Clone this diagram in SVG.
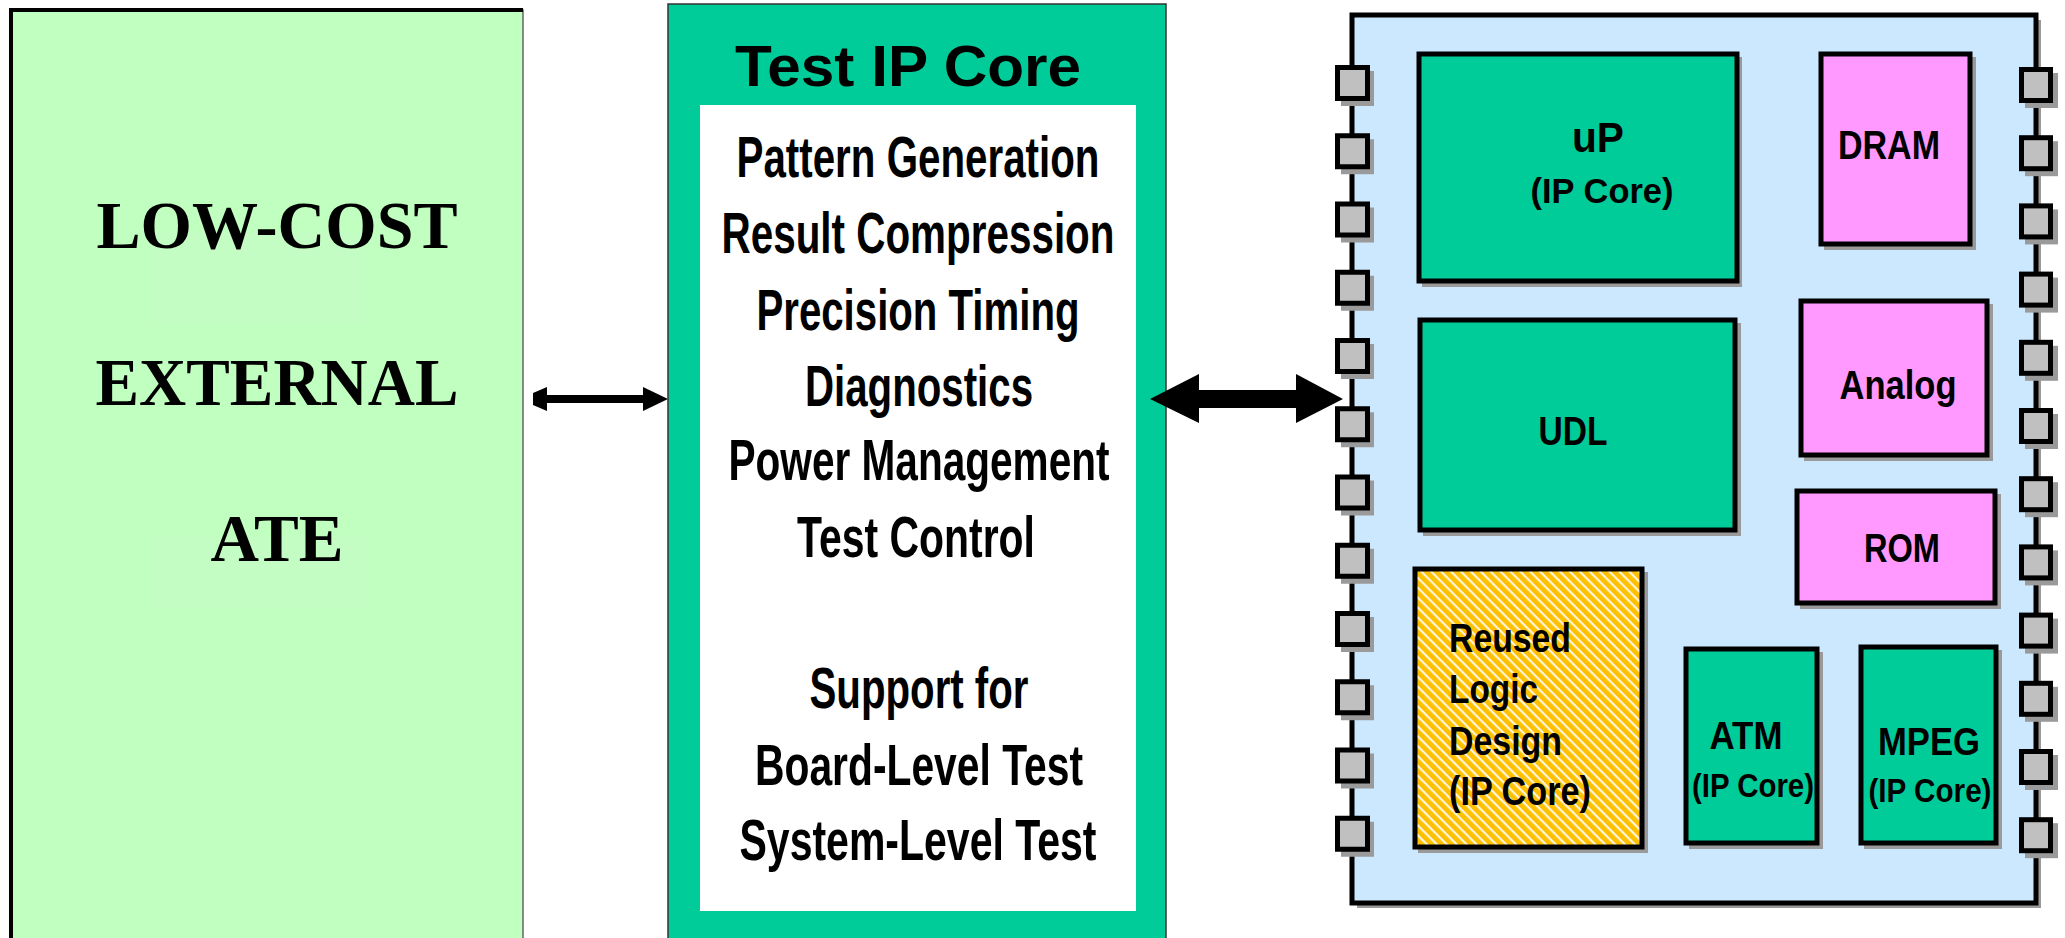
<svg xmlns="http://www.w3.org/2000/svg" width="2065" height="938" viewBox="0 0 2065 938">
  <style>
    .serif { font-family: "Liberation Serif", "Times New Roman", serif; font-weight: bold; fill: #000; }
    .sans { font-family: "Liberation Sans", Arial, sans-serif; font-weight: bold; fill: #000; }
    .mid { font-size: 57px; text-anchor: middle; }
    .chipTxt { font-size: 40px; text-anchor: middle; }
    .sub { font-size: 35px; text-anchor: middle; }
    .lft { font-size: 40px; }
    .shadow { fill: #9a9a9a; }
    .blk { stroke: #000; stroke-width: 5; }
    .green { fill: #00cc99; }
    .pink { fill: #ff99ff; }
    .pin { fill: #c0c0c0; stroke: #000; stroke-width: 5; }
    .pinShadow { fill: #9a9a9a; }
  </style>
  <defs>
    <pattern id="hatch" width="7" height="7" patternUnits="userSpaceOnUse" patternTransform="rotate(-45)">
      <rect width="7" height="7" fill="#fff4dc"/>
      <rect width="4.8" height="7" fill="#ffc000"/>
    </pattern>
    <g id="pinL">
      <rect class="pinShadow" x="1341" y="6" width="33" height="35"/>
      <rect class="pin" x="1337.5" y="2.5" width="30" height="31"/>
    </g>
    <g id="pinR">
      <rect class="pinShadow" x="2025" y="6" width="33" height="35"/>
      <rect class="pin" x="2021.5" y="2.5" width="29" height="31"/>
    </g>
  </defs>

  <rect width="2065" height="938" fill="#fff"/>

  <!-- external tester -->
  <g id="ate">
    <rect x="11" y="10" width="512" height="940" fill="#c0ffc0" stroke="#666" stroke-width="1.5"/>
    <path d="M11,950 V10 H523" fill="none" stroke="#000" stroke-width="4"/>
    <rect x="152" y="233" width="212" height="90" fill="#c4fdc4"/>
    <rect x="152" y="537" width="214" height="70" fill="#c4fdc4"/>
    <text class="serif" x="277" y="248" font-size="67" text-anchor="middle" textLength="361" lengthAdjust="spacingAndGlyphs">LOW-COST</text>
    <text class="serif" x="277" y="405" font-size="67" text-anchor="middle" textLength="363" lengthAdjust="spacingAndGlyphs">EXTERNAL</text>
    <text class="serif" x="277" y="561" font-size="67" text-anchor="middle" textLength="133" lengthAdjust="spacingAndGlyphs">ATE</text>
  </g>

  <!-- test core -->
  <g id="test-ip-core">
    <rect x="668" y="4" width="498" height="945" fill="#00cc99" stroke="#333" stroke-width="1.5"/>
    <text class="sans" x="908" y="86" font-size="58" text-anchor="middle" textLength="346" lengthAdjust="spacingAndGlyphs">Test IP Core</text>
    <rect x="700" y="105" width="436" height="806" fill="#fff"/>
    <text class="sans mid" x="918" y="177" textLength="363" lengthAdjust="spacingAndGlyphs">Pattern Generation</text>
    <text class="sans mid" x="918" y="253" textLength="393" lengthAdjust="spacingAndGlyphs">Result Compression</text>
    <text class="sans mid" x="918" y="330" textLength="323" lengthAdjust="spacingAndGlyphs">Precision Timing</text>
    <text class="sans mid" x="919" y="406" textLength="228" lengthAdjust="spacingAndGlyphs">Diagnostics</text>
    <text class="sans mid" x="919" y="480" textLength="381" lengthAdjust="spacingAndGlyphs">Power Management</text>
    <text class="sans mid" x="916" y="557" textLength="238" lengthAdjust="spacingAndGlyphs">Test Control</text>
    <text class="sans mid" x="919" y="708" textLength="219" lengthAdjust="spacingAndGlyphs">Support for</text>
    <text class="sans mid" x="919" y="785" textLength="328" lengthAdjust="spacingAndGlyphs">Board-Level Test</text>
    <text class="sans mid" x="918" y="860" textLength="357" lengthAdjust="spacingAndGlyphs">System-Level Test</text>
  </g>

  <!-- system chip -->
  <g id="soc">
    <rect class="shadow" x="1357" y="20" width="684" height="888"/>
    <rect x="1352" y="15" width="684" height="888" fill="#cce8ff" stroke="#000" stroke-width="5"/>
  </g>

  <g id="pins-left">
    <use href="#pinL" y="65"/>
    <use href="#pinL" y="133.25"/>
    <use href="#pinL" y="201.5"/>
    <use href="#pinL" y="269.75"/>
    <use href="#pinL" y="338"/>
    <use href="#pinL" y="406.25"/>
    <use href="#pinL" y="474.5"/>
    <use href="#pinL" y="542.75"/>
    <use href="#pinL" y="611"/>
    <use href="#pinL" y="679.25"/>
    <use href="#pinL" y="747.5"/>
    <use href="#pinL" y="815.75"/>
  </g>
  <g id="pins-right">
    <use href="#pinR" y="67"/>
    <use href="#pinR" y="135.2"/>
    <use href="#pinR" y="203.4"/>
    <use href="#pinR" y="271.6"/>
    <use href="#pinR" y="339.8"/>
    <use href="#pinR" y="408"/>
    <use href="#pinR" y="476.2"/>
    <use href="#pinR" y="544.4"/>
    <use href="#pinR" y="612.6"/>
    <use href="#pinR" y="680.8"/>
    <use href="#pinR" y="749"/>
    <use href="#pinR" y="817.2"/>
  </g>

  <g id="up">
    <rect class="shadow" x="1422" y="57" width="320" height="230"/>
    <rect class="green blk" x="1419" y="54" width="318" height="227"/>
    <text class="sans" x="1598" y="152" font-size="42" text-anchor="middle" textLength="52" lengthAdjust="spacingAndGlyphs">uP</text>
    <text class="sans sub" x="1602" y="203" textLength="143" lengthAdjust="spacingAndGlyphs">(IP Core)</text>
  </g>

  <g id="dram">
    <rect class="shadow" x="1824" y="57" width="152" height="193"/>
    <rect class="pink blk" x="1821" y="54" width="149" height="190"/>
    <text class="sans chipTxt" x="1889" y="159" textLength="102" lengthAdjust="spacingAndGlyphs">DRAM</text>
  </g>

  <g id="udl">
    <rect class="shadow" x="1423" y="323" width="318" height="213"/>
    <rect class="green blk" x="1420" y="320" width="315" height="210"/>
    <text class="sans chipTxt" x="1573" y="445" textLength="69" lengthAdjust="spacingAndGlyphs">UDL</text>
  </g>

  <g id="analog">
    <rect class="shadow" x="1804" y="304" width="189" height="157"/>
    <rect class="pink blk" x="1801" y="301" width="186" height="154"/>
    <text class="sans chipTxt" x="1898" y="399" textLength="117" lengthAdjust="spacingAndGlyphs">Analog</text>
  </g>

  <g id="rom">
    <rect class="shadow" x="1800" y="494" width="201" height="115"/>
    <rect class="pink blk" x="1797" y="491" width="198" height="112"/>
    <text class="sans chipTxt" x="1902" y="562" textLength="76" lengthAdjust="spacingAndGlyphs">ROM</text>
  </g>

  <g id="reused-logic">
    <rect class="shadow" x="1418" y="572" width="230" height="281"/>
    <rect class="blk" x="1415" y="569" width="227" height="278" fill="url(#hatch)"/>
    <text class="sans lft" x="1449" y="652" textLength="122" lengthAdjust="spacingAndGlyphs">Reused</text>
    <text class="sans lft" x="1449" y="703" textLength="89" lengthAdjust="spacingAndGlyphs">Logic</text>
    <text class="sans lft" x="1449" y="755" textLength="113" lengthAdjust="spacingAndGlyphs">Design</text>
    <text class="sans lft" x="1449" y="805" textLength="142" lengthAdjust="spacingAndGlyphs">(IP Core)</text>
  </g>

  <g id="atm">
    <rect class="shadow" x="1689" y="652" width="134" height="197"/>
    <rect class="green blk" x="1686" y="649" width="131" height="194"/>
    <text class="sans" x="1746" y="749" font-size="39" text-anchor="middle" textLength="73" lengthAdjust="spacingAndGlyphs">ATM</text>
    <text class="sans" x="1753" y="797" font-size="34" text-anchor="middle" textLength="122" lengthAdjust="spacingAndGlyphs">(IP Core)</text>
  </g>

  <g id="mpeg">
    <rect class="shadow" x="1864" y="650" width="138" height="199"/>
    <rect class="green blk" x="1861" y="647" width="135" height="196"/>
    <text class="sans" x="1929" y="755" font-size="39" text-anchor="middle" textLength="102" lengthAdjust="spacingAndGlyphs">MPEG</text>
    <text class="sans" x="1930" y="802" font-size="34" text-anchor="middle" textLength="123" lengthAdjust="spacingAndGlyphs">(IP Core)</text>
  </g>

  <!-- connectors -->
  <g id="connectors" fill="#000">
    <polygon points="533,393 547,387 547,395 643,395 643,387 668,399 643,411 643,403 547,403 547,411 533,405"/>
    <polygon points="1150,399 1199,374 1199,390 1296,390 1296,374 1343,399 1296,423 1296,408 1199,408 1199,423"/>
  </g>
</svg>
